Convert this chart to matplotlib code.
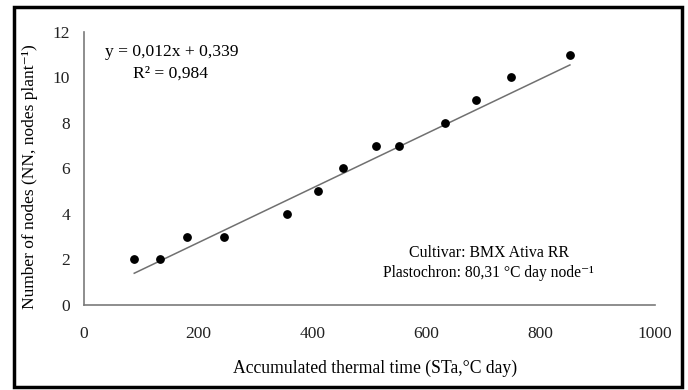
import matplotlib
matplotlib.use("Agg")
import matplotlib.pyplot as plt
from matplotlib.patches import Rectangle

thermal_time = [88, 133, 181, 246, 356, 410, 454, 512, 551, 632, 686, 747, 851]
nodes = [2, 2, 3, 3, 4, 5, 6, 7, 7, 8, 9, 10, 11]
slope = 0.012
intercept = 0.339
x_ticks = [0, 200, 400, 600, 800, 1000]
y_ticks = [0, 2, 4, 6, 8, 10, 12]

plt.rcParams['font.family'] = ['Liberation Serif', 'DejaVu Serif']

fig = plt.figure(figsize=(6.88, 3.9), dpi=100)
ax = fig.add_axes([0.1221, 0.218, 0.952 - 0.1221, 0.918 - 0.218])

ax.scatter(thermal_time, nodes, s=28, color='black', zorder=3)
x0, x1 = min(thermal_time), max(thermal_time)
ax.plot([x0, x1], [slope * x0 + intercept, slope * x1 + intercept],
        color='#707070', lw=1.1, zorder=2)

ax.set_xlim(0, 1000)
ax.set_ylim(0, 12)
ax.set_xticks(x_ticks)
ax.set_yticks(y_ticks)
ax.tick_params(length=0, labelsize=12.5, colors='#222222')
ax.tick_params(axis='x', pad=15)
ax.tick_params(axis='y', pad=10)
for s in ['top', 'right']:
    ax.spines[s].set_visible(False)
for s in ['left', 'bottom']:
    ax.spines[s].set_color('#7a7a7a')
    ax.spines[s].set_linewidth(1.2)

ax.set_xlabel('Accumulated thermal time (STa,°C day)', fontsize=12.7, va='center')
ax.xaxis.set_label_coords(0.51, -0.231)
ax.set_ylabel('Number of nodes (NN, nodes plant⁻¹)', fontsize=12.5, va='center')
ax.yaxis.set_label_coords(-0.094, 0.469)

ax.text(0.036, 0.927, 'y = 0,012x + 0,339', transform=ax.transAxes, fontsize=12.6,
        ha='left', va='center')
ax.text(0.086, 0.846, 'R² = 0,984', transform=ax.transAxes, fontsize=12.6,
        ha='left', va='center')
ax.text(0.709, 0.19, 'Cultivar: BMX Ativa RR', transform=ax.transAxes, fontsize=11.4,
        ha='center', va='center')
ax.text(0.709, 0.117, 'Plastochron: 80,31 °C day node⁻¹',
        transform=ax.transAxes, fontsize=11.2, ha='center', va='center')

fig.patches.append(Rectangle((14 / 688, 3 / 390), 668 / 688, 380 / 390,
                             transform=fig.transFigure, fill=False,
                             edgecolor='black', lw=2.5))

fig.savefig('out.png', dpi=100)
